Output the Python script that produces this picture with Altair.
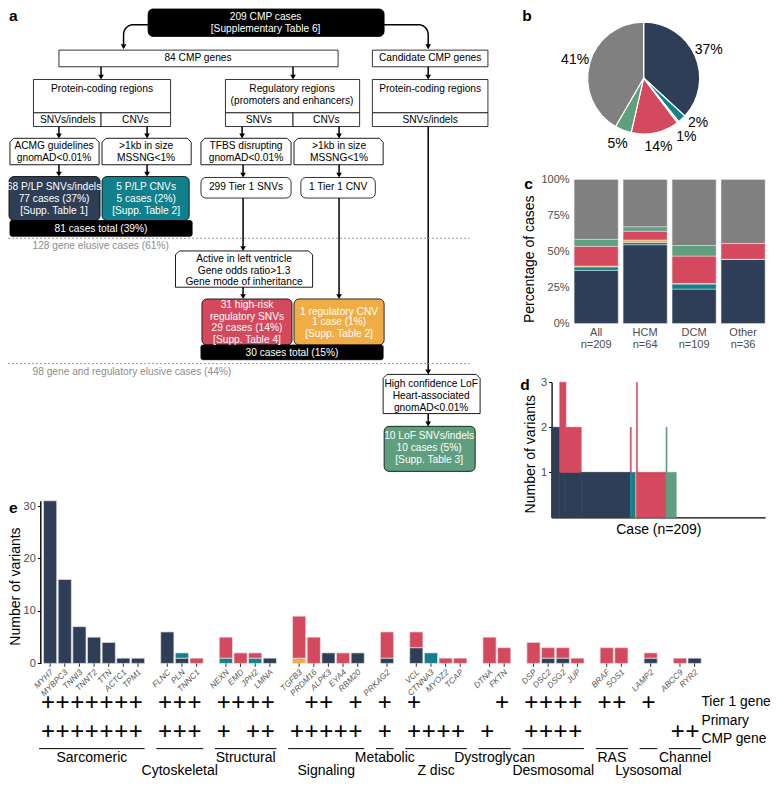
import math
import altair as alt
import pandas as pd

W, H = 763, 771
SX, SY = W / 779.0, H / 787.0


def tx(v):
    return round(v * SX, 2)


def ty(v):
    return round(v * SY, 2)


FONT = "Liberation Sans"

# ---------------------------------------------------------------- data
CATS = ["CMP gene protein-coding SNV/indel", "CMP gene protein-coding CNV",
        "CMP gene regulatory SNV", "CMP gene regulatory CNV",
        "Candidate gene protein-coding SNV/indel", "Gene elusive"]
COLS = ["#2d3e56", "#10808c", "#d4495e", "#f0ad45", "#5f9e7e", "#808080"]
STACK_RANK = [0, 1, 3, 2, 4, 5]

# panel b (in CATS order)
pie_counts = [77, 5, 29, 1, 10, 87]
pie_labels = ["37%", "2%", "14%", "1%", "5%", "41%"]

# panel c
c_groups = ["All", "HCM", "DCM", "Other"]
c_n = [209, 64, 109, 36]
c_coding_snv = [77, 35, 26, 16]
c_coding_cnv = [5, 1, 4, 0]
c_reg_snv = [29, 4, 21, 4]
c_reg_cnv = [1, 1, 0, 0]
c_candidate = [10, 2, 8, 0]
c_elusive = [87, 21, 50, 16]

# panel d (runs of consecutive cases with identical variant counts)
d_run_cases = [8, 6, 15, 48, 1, 4, 1, 1, 28, 1, 9, 87]
d_run_coding_snv = [2, 1, 1, 1, 0, 0, 0, 0, 0, 0, 0, 0]
d_run_coding_cnv = [0, 0, 0, 0, 1, 1, 0, 0, 0, 0, 0, 0]
d_run_reg_snv = [0, 2, 1, 0, 1, 0, 0, 3, 1, 0, 0, 0]
d_run_reg_cnv = [0, 0, 0, 0, 0, 0, 1, 0, 0, 0, 0, 0]
d_run_candidate = [0, 0, 0, 0, 0, 0, 0, 0, 0, 2, 1, 0]

# panel e
e_groups = ["Sarcomeric", "Cytoskeletal", "Structural", "Signaling", "Metabolic",
            "Z disc", "Dystroglycan", "Desmosomal", "RAS", "Lysosomal", "Channel"]
e_group_genes = [["MYH7", "MYBPC3", "TNNI3", "TNNT2", "TTN", "ACTC1", "TPM1"],
                 ["FLNC", "PLN", "TNNC1"],
                 ["NEXN", "EMD", "JPH2", "LMNA"],
                 ["TGFB3", "PRDM16", "ALPK3", "EYA4", "RBM20"],
                 ["PRKAG2"],
                 ["VCL", "CTNNA3", "MYOZ2", "TCAP"],
                 ["DTNA", "FKTN"],
                 ["DSP", "DSC2", "DSG2", "JUP"],
                 ["BRAF", "SOS1"],
                 ["LAMP2"],
                 ["ABCC9", "RYR2"]]
e_coding_snv = [31, 16, 7, 5, 4, 1, 1, 6, 1, 0, 0, 0, 0, 1, 0, 0, 2, 0, 2, 1,
                3, 0, 0, 0, 0, 0, 0, 1, 1, 0, 0, 0, 1, 0, 1]
e_coding_cnv = [0, 0, 0, 0, 0, 0, 0, 0, 1, 0, 1, 0, 1, 0, 0, 0, 0, 0, 0, 0,
                0, 2, 0, 0, 0, 0, 0, 0, 0, 0, 0, 0, 0, 0, 0]
e_reg_snv = [0, 0, 0, 0, 0, 0, 0, 0, 0, 1, 4, 2, 1, 0, 8, 5, 0, 2, 0, 5,
             3, 0, 1, 1, 5, 3, 4, 2, 2, 1, 3, 3, 1, 1, 0]
e_reg_cnv = [0, 0, 0, 0, 0, 0, 0, 0, 0, 0, 0, 0, 0, 0, 1, 0, 0, 0, 0, 0,
             0, 0, 0, 0, 0, 0, 0, 0, 0, 0, 0, 0, 0, 0, 0]
e_tier1 = ["MYH7", "MYBPC3", "TNNI3", "TNNT2", "TTN", "ACTC1", "TPM1", "FLNC", "PLN",
           "TNNC1", "NEXN", "EMD", "JPH2", "LMNA", "PRDM16", "ALPK3", "RBM20", "PRKAG2",
           "VCL", "FKTN", "DSP", "DSC2", "DSG2", "JUP", "BRAF", "SOS1", "LAMP2"]
e_primary = ["MYH7", "MYBPC3", "TNNI3", "TNNT2", "TTN", "ACTC1", "TPM1", "FLNC", "PLN",
             "TNNC1", "NEXN", "JPH2", "LMNA", "TGFB3", "PRDM16", "ALPK3", "EYA4", "RBM20",
             "PRKAG2", "VCL", "CTNNA3", "MYOZ2", "TCAP", "DTNA", "DSP", "DSC2", "DSG2",
             "JUP", "ABCC9", "RYR2"]

# ---------------------------------------------------------------- shared styles
CSCALE = alt.Scale(domain=CATS, range=COLS)
LEG = alt.Legend(orient="none", legendX=tx(2), legendY=ty(392), title=None,
                 symbolType="square", symbolSize=100, symbolStrokeWidth=0,
                 labelFontSize=10.2, labelFont=FONT, labelColor="black", labelLimit=400,
                 rowPadding=1.8, padding=0, labelOffset=5)

FX = alt.Scale(domain=[0, 779], range=[0, W], nice=False, zero=False)
FY = alt.Scale(domain=[0, 787], range=[0, H], nice=False, zero=False)

# ---------------------------------------------------------------- panel a layout
NAVY, TEAL, RED, ORANGE, GREEN = COLS[0], COLS[1], COLS[2], COLS[3], COLS[4]

plain_boxes = [(52, 43, 337, 60), (372, 43, 490, 60),
               (26, 73, 166, 107), (26, 107, 95, 121), (95, 107, 166, 121),
               (222, 73, 359, 107), (222, 107, 291, 121), (291, 107, 359, 121),
               (372, 73, 490, 107), (372, 107, 490, 121)]
round_boxes = [(143, 1, 384, 29, "black"), (1, 172, 94, 217, NAVY), (96, 172, 185, 217, TEAL),
               (197, 173, 289, 194, "white"), (299, 173, 375, 194, "white"),
               (198, 297, 290, 344, RED), (292, 297, 384, 344, ORANGE),
               (384, 427, 477, 473, GREEN)]
total_boxes = [(2, 217, 188, 233), (197, 344, 383, 359)]
tag_boxes = [(2, 133, 93, 160), (96, 133, 187, 160), (197, 133, 289, 160),
             (292, 133, 383, 160), (171, 248, 311, 285), (383, 374, 482, 414)]


def tag_pts(x0, y0, x1, y1, c=4):
    return [(x0, y0 + c), (x0 + c, y0), (x1 - c, y0), (x1, y0 + c), (x1, y1), (x0, y1), (x0, y0 + c)]


def arc_pts(cx, cy, r, a0, a1, n=10):
    pts = []
    for k in range(n + 1):
        a = math.radians(a0 + (a1 - a0) * k / n)
        pts.append((cx + r * math.cos(a), cy - r * math.sin(a)))
    return pts


arrow_tips = [(95, 73), (291, 73), (429, 73), (52, 133), (142, 133), (239, 133), (338, 133),
              (52, 172), (142, 172), (240, 173), (338, 173), (240, 248), (338, 297),
              (240, 297), (429, 374), (429, 427)]
arrow_starts = [60, 60, 60, 121, 121, 121, 121, 160, 160, 160, 160, 194, 194, 285, 121, 414]

connector_paths = [[(143, 17)] + arc_pts(128, 27, 10, 90, 180) + [(118, 40)],
                   [(384, 17)] + arc_pts(419, 27, 10, 90, 0) + [(429, 40)]]
for (x, tip), y0 in zip(arrow_tips, arrow_starts):
    connector_paths.append([(x, y0), (x, tip - 2)])
head_pts = [(118, 42), (429, 42)] + arrow_tips

dotted_paths = [[(0, 235), (471, 235)], [(0, 363), (471, 363)]]

white_text = [(263, 9, "209 CMP cases"), (263, 21, "[Supplementary Table 6]"),
              (47, 183, "68 P/LP SNVs/indels"), (47, 195, "77 cases (37%)"), (47, 207, "[Supp. Table 1]"),
              (141, 183, "5 P/LP CNVs"), (141, 195, "5 cases (2%)"), (141, 207, "[Supp. Table 2]"),
              (95, 226, "81 cases total (39%)"),
              (244, 303, "31 high-risk"), (244, 315, "regulatory SNVs"), (244, 327, "29 cases (14%)"),
              (244, 339, "[Supp. Table 4]"),
              (338, 310, "1 regulatory CNV"), (338, 321, "1 case (1%)"), (338, 333, "[Supp. Table 2]"),
              (290, 352, "30 cases total (15%)"),
              (430, 437, "10 LoF SNVs/indels"), (430, 449, "10 cases (5%)"), (430, 461, "[Supp. Table 3]")]
black_text = [(194, 51, "84 CMP genes"), (431, 51, "Candidate CMP genes"),
              (96, 83, "Protein-coding regions"), (290, 83, "Regulatory regions"),
              (290, 95, "(promoters and enhancers)"), (431, 83, "Protein-coding regions"),
              (61, 114, "SNVs/indels"), (130, 114, "CNVs"), (256, 114, "SNVs"), (325, 114, "CNVs"),
              (431, 114, "SNVs/indels"),
              (47, 141, "ACMG guidelines"), (47, 153, "gnomAD<0.01%"),
              (141, 141, ">1kb in size"), (141, 153, "MSSNG<1%"),
              (243, 141, "TFBS disrupting"), (243, 153, "gnomAD<0.01%"),
              (338, 141, ">1kb in size"), (338, 153, "MSSNG<1%"),
              (243, 183, "299 Tier 1 SNVs"), (337, 183, "1 Tier 1 CNV"),
              (241, 256, "Active in left ventricle"), (241, 268, "Gene odds ratio>1.3"),
              (241, 280, "Gene mode of inheritance"),
              (432, 384, "High confidence LoF"), (432, 396, "Heart-associated"), (432, 408, "gnomAD<0.01%")]
gray_text = [(25, 243, "128 gene elusive cases (61%)"),
             (25, 372, "98 gene and regulatory elusive cases (44%)")]
side_text = [(708, 708, "Tier 1 gene"), (708, 728, "Primary"), (708, 746, "CMP gene")]
panel_letters = [(1, 8, "a"), (525, 8, "b"), (527, 180, "c"), (523, 385, "d"), (1, 510, "e")]


def rect_layer(rows, radius=0, sw=0.8):
    df = pd.DataFrame(rows, columns=["x0", "y0", "x1", "y1", "fill", "stroke"])
    kw = dict(strokeWidth=sw)
    if radius:
        kw["cornerRadius"] = radius
    return alt.Chart(df).mark_rect(**kw).encode(
        x=alt.X("x0:Q", scale=FX, axis=None), x2="x1",
        y=alt.Y("y0:Q", scale=FY, axis=None), y2="y1",
        fill=alt.Fill("fill:N", scale=None), stroke=alt.Stroke("stroke:N", scale=None))


def path_layer(paths, width, color, dash=None):
    rows = []
    for pid, pts in enumerate(paths):
        for k, (x, y) in enumerate(pts):
            rows.append(dict(pid=pid, k=k, x=x, y=y))
    kw = dict(strokeWidth=width, color=color)
    if dash:
        kw["strokeDash"] = dash
    return alt.Chart(pd.DataFrame(rows)).mark_line(**kw).encode(
        x=alt.X("x:Q", scale=FX, axis=None), y=alt.Y("y:Q", scale=FY, axis=None),
        detail="pid:N", order="k:Q")


def text_layer(rows, size, color, align="center", weight="normal"):
    df = pd.DataFrame(rows, columns=["x", "y", "t"])
    return alt.Chart(df).mark_text(fontSize=size, color=color, align=align, baseline="middle",
                                   fontWeight=weight, font=FONT).encode(
        x=alt.X("x:Q", scale=FX, axis=None), y=alt.Y("y:Q", scale=FY, axis=None), text="t:N")


heads = alt.Chart(pd.DataFrame([dict(x=x, y=y - 2.4) for x, y in head_pts])).mark_point(
    shape="triangle-down", filled=True, size=32, color="black", opacity=1).encode(
    x=alt.X("x:Q", scale=FX, axis=None), y=alt.Y("y:Q", scale=FY, axis=None))

flow = alt.layer(
    rect_layer([b + ("white", "black") for b in plain_boxes]),
    path_layer([tag_pts(*b) for b in tag_boxes], 0.9, "black"),
    rect_layer([b + ("black",) for b in round_boxes], radius=5),
    rect_layer([b + ("black", "black") for b in total_boxes], radius=2),
    path_layer(connector_paths, 1.5, "black"),
    heads,
    path_layer(dotted_paths, 1.0, "#9a9a9a", dash=[2, 2]),
    text_layer(white_text, 10.2, "white"),
    text_layer(black_text, 10.2, "black"),
    text_layer(gray_text, 10.2, "#8c8c8c", align="left"),
    text_layer(side_text, 13.8, "black", align="left"),
    text_layer(panel_letters, 15.5, "black", align="left", weight="bold"),
)

# ---------------------------------------------------------------- panel b (pie)
NUDGE = {"2%": (6, -7), "1%": (-1, 3)}
pie_df = pd.DataFrame({"cat": CATS, "count": pie_counts, "label": pie_labels,
                       "rank": STACK_RANK})
pie_df["lab_main"] = [lab if lab not in NUDGE else "" for lab in pie_labels]
for lab in NUDGE:
    pie_df["lab_" + lab] = [l if l == lab else "" for l in pie_labels]
pie_base = alt.Chart(pie_df).encode(
    theta=alt.Theta("count:Q", stack=True), order=alt.Order("rank:Q"),
    detail="cat:N", x=alt.value(tx(649)), y=alt.value(ty(71.5)))
pie_layers = [
    pie_base.mark_arc(outerRadius=56, stroke="white", strokeWidth=1.2).encode(
        color=alt.Color("cat:N", scale=CSCALE, legend=LEG)),
    pie_base.mark_text(radius=71, fontSize=14, color="black", font=FONT).encode(text="lab_main:N"),
]
for lab, (ddx, ddy) in NUDGE.items():
    pie_layers.append(pie_base.mark_text(radius=71, fontSize=14, color="black", font=FONT,
                                         dx=ddx, dy=ddy).encode(
        text=alt.Text("lab_" + lab + ":N")))
pie = alt.layer(*pie_layers)

# ---------------------------------------------------------------- panel c
c_series = [c_coding_snv, c_coding_cnv, c_reg_snv, c_reg_cnv, c_candidate, c_elusive]
c_rows = []
for gi, g in enumerate(c_groups):
    for ci, cat in enumerate(CATS):
        c_rows.append(dict(group=g, cat=cat, count=c_series[ci][gi], rank=STACK_RANK[ci]))
c_df = pd.DataFrame(c_rows)
c_lab = pd.DataFrame({"group": c_groups, "l1": c_groups, "l2": ["n=%d" % n for n in c_n]})
CXS = alt.Scale(domain=c_groups, range=[tx(578), tx(773)], paddingInner=0.1, paddingOuter=0)
c_bars = alt.Chart(c_df).mark_bar(stroke="#e6e6e6", strokeWidth=0.5).encode(
    x=alt.X("group:N", scale=CXS, axis=None, sort=c_groups),
    y=alt.Y("count:Q", stack="normalize",
            scale=alt.Scale(domain=[0, 1], range=[ty(322), ty(175)], nice=False),
            axis=alt.Axis(orient="left", offset=-tx(578), values=[0, 0.25, 0.5, 0.75, 1],
                          format=".0%", domain=False, ticks=False, labelPadding=5,
                          labelFontSize=11, title="Percentage of cases", titleFontSize=14,
                          titlePadding=4, titleY=ty(256), grid=False, labelFlush=False)),
    color=alt.Color("cat:N", scale=CSCALE, legend=LEG),
    order=alt.Order("rank:Q"))
c_t1 = alt.Chart(c_lab).mark_text(fontSize=11, color="#4d4d4d", font=FONT, baseline="middle").encode(
    x=alt.X("group:N", scale=CXS, axis=None, sort=c_groups), y=alt.value(ty(332)), text="l1:N")
c_t2 = alt.Chart(c_lab).mark_text(fontSize=11, color="#4d4d4d", font=FONT, baseline="middle").encode(
    x=alt.X("group:N", scale=CXS, axis=None, sort=c_groups), y=alt.value(ty(344)), text="l2:N")
panel_c = alt.layer(c_bars, c_t1, c_t2)

# ---------------------------------------------------------------- panel d
d_series = {0: d_run_coding_snv, 1: d_run_coding_cnv, 2: d_run_reg_snv,
            3: d_run_reg_cnv, 4: d_run_candidate}
d_rows = []
start = 0
for ri, n in enumerate(d_run_cases):
    base = 0
    for ci in sorted(d_series, key=lambda c: STACK_RANK[c]):
        v = d_series[ci][ri]
        if v > 0:
            d_rows.append(dict(c0=start, c1=start + n, y0=base, y1=base + v, cat=CATS[ci]))
            base += v
    start += n
d_df = pd.DataFrame(d_rows)
panel_d = alt.Chart(d_df).mark_rect(strokeWidth=0.6).encode(
    x=alt.X("c0:Q", scale=alt.Scale(domain=[0, 209], range=[tx(555), tx(773)], nice=False, zero=False),
            axis=alt.Axis(orient="bottom", offset=ty(520) - H, ticks=False, labels=False,
                          title="Case (n=209)", titleFontSize=14, titlePadding=5, grid=False,
                          domainWidth=1.3)),
    x2="c1",
    y=alt.Y("y0:Q", scale=alt.Scale(domain=[0, 3], range=[ty(520), ty(382)], nice=False),
            axis=alt.Axis(orient="left", offset=-tx(555), values=[1, 2, 3], tickSize=3,
                          labelFontSize=11, labelPadding=2, title="Number of variants",
                          titleFontSize=14, titlePadding=3, titleY=ty(455), grid=False,
                          domainWidth=1.3, labelFlush=False)),
    y2="y1",
    color=alt.Color("cat:N", scale=CSCALE, legend=LEG),
    stroke=alt.Stroke("cat:N", scale=CSCALE, legend=None))

# ---------------------------------------------------------------- panel e
e_series = {0: e_coding_snv, 1: e_coding_cnv, 2: e_reg_snv, 3: e_reg_cnv}
gene_slot = {}
e_rows = []
idx = 0
grp_rows = []
for gi, genes in enumerate(e_group_genes):
    slots = []
    for gene in genes:
        slot = idx + gi
        gene_slot[gene] = slot
        slots.append(slot)
        base = 0
        for ci in sorted(e_series, key=lambda c: STACK_RANK[c]):
            v = e_series[ci][idx]
            if v > 0:
                e_rows.append(dict(gene=gene, s0=slot - 0.45, s1=slot + 0.45,
                                   y0=base, y1=base + v, cat=CATS[ci]))
                base += v
        idx += 1
    grp_rows.append(dict(name=e_groups[gi], g0=slots[0] - 0.75, g1=slots[-1] + 0.45,
                         gc=(slots[0] + slots[-1]) / 2 - 0.15, row=gi % 2))
e_df = pd.DataFrame(e_rows)
grp_df = pd.DataFrame(grp_rows)
gene_df = pd.DataFrame({"gene": list(gene_slot.keys()), "slot": list(gene_slot.values())})
gene_df["lx"] = gene_df["slot"] + 0.15

EXS = alt.Scale(domain=[-0.669, 48.48], range=[tx(33), tx(768)], nice=False, zero=False)
e_bars = alt.Chart(e_df).mark_rect(stroke="#e3e3e3", strokeWidth=0.7).encode(
    x=alt.X("s0:Q", scale=EXS,
            axis=alt.Axis(orient="bottom", offset=ty(669) - H, ticks=False, labels=False,
                          title=None, grid=False, domainWidth=1.4)),
    x2="s1",
    y=alt.Y("y0:Q", scale=alt.Scale(domain=[0, 31], range=[ty(669), ty(503)], nice=False),
            axis=alt.Axis(orient="left", offset=-tx(33), values=[0, 10, 20, 30], tickSize=3,
                          labelFontSize=11, labelPadding=2, title="Number of variants",
                          titleFontSize=14, titlePadding=1, titleY=ty(590), grid=False,
                          domainWidth=1.4, labelFlush=False)),
    y2="y1",
    color=alt.Color("cat:N", scale=CSCALE, legend=LEG))
e_ticks = alt.Chart(gene_df).mark_rule(color="#333333", strokeWidth=1).encode(
    x=alt.X("slot:Q", scale=EXS, axis=None), y=alt.value(ty(669)), y2=alt.value(ty(672.5)))
e_names = alt.Chart(gene_df).mark_text(angle=315, align="right", baseline="middle",
                                       fontSize=8.3, fontStyle="italic", color="#555555",
                                       font=FONT).encode(
    x=alt.X("lx:Q", scale=EXS, axis=None), y=alt.value(ty(677)), text="gene:N")

plus1 = pd.DataFrame({"xs": [gene_slot[g] - 0.15 for g in e_tier1]})
plus2 = pd.DataFrame({"xs": [gene_slot[g] - 0.15 for g in e_primary]})
e_p1 = alt.Chart(plus1).mark_text(text="+", fontSize=24, color="black", font=FONT,
                                  baseline="middle").encode(
    x=alt.X("xs:Q", scale=EXS, axis=None), y=alt.value(ty(709)))
e_p2 = alt.Chart(plus2).mark_text(text="+", fontSize=24, color="black", font=FONT,
                                  baseline="middle").encode(
    x=alt.X("xs:Q", scale=EXS, axis=None), y=alt.value(ty(739)))
e_rules = alt.Chart(grp_df).mark_rule(color="black", strokeWidth=1).encode(
    x=alt.X("g0:Q", scale=EXS, axis=None), x2="g1", y=alt.value(ty(756)))
e_up = alt.Chart(grp_df[grp_df.row == 0]).mark_text(fontSize=14, color="black", font=FONT,
                                                    baseline="middle").encode(
    x=alt.X("gc:Q", scale=EXS, axis=None), y=alt.value(ty(766)), text="name:N")
e_lo = alt.Chart(grp_df[grp_df.row == 1]).mark_text(fontSize=14, color="black", font=FONT,
                                                    baseline="middle").encode(
    x=alt.X("gc:Q", scale=EXS, axis=None), y=alt.value(ty(779)), text="name:N")
panel_e = alt.layer(e_bars, e_ticks, e_names, e_p1, e_p2, e_rules, e_up, e_lo)

# ---------------------------------------------------------------- assemble
chart = alt.layer(flow, pie, panel_c, panel_d, panel_e).resolve_scale(
    x="independent", y="independent"
).properties(
    width=W, height=H, padding=0, autosize=alt.AutoSizeParams(type="none")
).configure(font=FONT).configure_view(strokeWidth=0).configure_axis(
    labelFont=FONT, titleFont=FONT, labelColor="#4d4d4d", titleColor="black",
    titleFontWeight="normal", domainColor="black", tickColor="black", grid=False)

chart.save("out.html", embed_options={"renderer": "svg", "actions": False})
